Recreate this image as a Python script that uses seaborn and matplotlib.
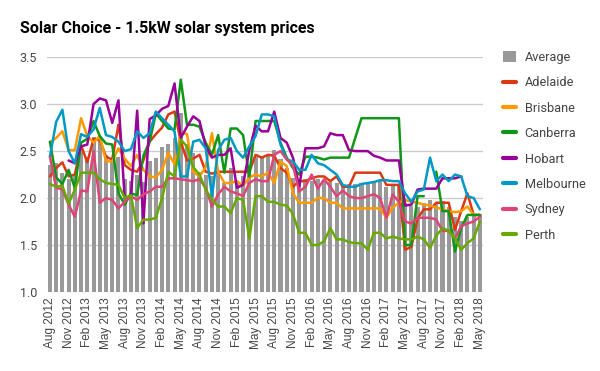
import matplotlib
matplotlib.use("Agg")
import matplotlib.pyplot as plt
from matplotlib.lines import Line2D
from matplotlib.patches import Patch
import seaborn as sns
import pandas as pd
import numpy as np

nan = np.nan

# monthly, Aug 2012 .. May 2018
months = pd.date_range("2012-08-01", "2018-05-01", freq="MS")
month_labels = [d.strftime("%b %Y") for d in months]

average = [2.35, 2.37, 2.27, 2.20, 2.23, 2.50, 2.44, 2.65, 2.62, 2.46,
           2.41, 2.44, 2.20, 2.18, 2.25, 2.17, 2.39, 2.43, 2.54, 2.57,
           2.64, 2.90, 2.58, 2.48, 2.28, 2.25, 2.23, 2.27, 2.16, 2.32,
           2.17, 2.23, 2.35, 2.44, 2.45, 2.46, 2.51, 2.42, 2.32, 2.21,
           2.16, 2.20, 2.18, 2.20, 2.18, 2.17, 2.16, 2.14, 2.15, 2.15,
           2.16, 2.17, 2.17, 2.18, 2.12, 2.15, 2.14, 1.95, 1.92, 1.90,
           1.95, 1.98, 1.95, 1.97, 1.90, 1.80, 1.76, 1.80, 1.83, 1.83]

adelaide = [2.23, 2.32, 2.38, 2.23, 2.25, 2.56, 2.38, 2.63, 2.62, 2.44,
            2.41, 2.78, 2.35, 2.30, 2.28, 2.40, 2.60, 2.68, 2.75, 2.89,
            2.92, 2.60, 2.40, 2.42, 2.46, 2.28, 2.26, 2.28, 2.28, 2.28,
            2.28, 2.28, 2.28, 2.46, 2.43, 2.46, 2.45, 2.32, 2.27, 2.12,
            2.18, 2.18, 2.21, 2.23, 2.23, 2.18, 2.23, 2.12, 2.12, 2.27,
            2.27, 2.27, 2.27, 2.27, 2.14, 2.14, 2.14, 1.45, 1.48, 1.78,
            1.88, 1.88, 1.95, 1.95, 1.95, 1.66, 1.86, 2.05, 1.82, 1.82]

brisbane = [2.59, 2.64, 2.71, 2.51, 2.51, 2.85, 2.66, 2.59, 2.66, 2.39,
            2.39, 2.53, 2.42, 2.34, 2.46, 2.30, 2.23, 2.22, 2.30, 2.48,
            2.36, 2.70, 2.68, 2.28, 2.23, 2.33, 2.69, 2.28, 2.16, 2.16,
            2.18, 2.13, 2.22, 2.25, 2.23, 2.27, 2.16, 2.39, 2.34, 2.05,
            1.95, 1.95, 1.95, 2.00, 2.00, 1.95, 1.95, 1.89, 1.89, 1.89,
            1.89, 1.89, 1.89, 1.89, 1.79, 1.90, 1.95, 1.98, 1.96, 1.95,
            1.93, 1.92, 1.90, 1.88, 1.86, 1.85, 1.86, 1.91, 1.82, 1.82]

canberra = [2.60, 2.22, 2.15, 2.30, 2.11, 2.59, 2.63, 2.82, 2.66, 2.58,
            2.57, 2.05, 1.93, 2.05, 2.03, 2.45, 2.60, 2.90, 2.82, 2.74,
            2.73, 3.26, 2.78, 2.78, 2.76, 2.59, 2.46, 2.67, 2.27, 2.74,
            2.74, 2.67, 2.23, 2.82, 2.82, 2.82, 2.82, 2.59, 2.43, 2.32,
            2.25, 2.44, 2.44, 2.43, 2.41, 2.43, 2.43, 2.43, 2.43, 2.64,
            2.85, 2.85, 2.85, 2.85, 2.85, 2.85, 2.85, 1.50, 1.50, 2.02,
            2.02, nan, 2.28, 1.86, 1.86, 1.43, 1.68, 1.82, 1.82, 1.82]

hobart = [nan, nan, nan, 2.40, 2.37, 2.55, 2.57, 3.00, 3.06, 3.04,
          2.80, 3.04, 2.00, 2.02, 2.93, 1.73, 2.84, 2.88, 2.95, 2.98,
          3.22, 2.64, 2.76, 2.87, 2.82, 2.55, 2.43, 2.46, 2.46, 2.53,
          2.11, 2.14, 2.51, 2.77, 2.71, 2.71, 2.92, 2.64, 2.59, 2.43,
          2.12, 2.53, 2.53, 2.53, 2.55, 2.69, 2.67, 2.67, 2.51, 2.50,
          2.50, 2.50, 2.45, 2.43, 2.40, 2.40, 2.40, 1.92, 1.93, 2.09,
          2.10, 2.10, 2.10, 2.21, 2.21, 2.21, 2.23, nan, nan, nan]

melbourne = [2.44, 2.81, 2.94, 2.50, 2.37, 2.68, 2.65, 2.73, 2.96, 2.67,
             2.65, 2.60, 2.50, 2.52, 2.71, 2.64, 2.69, 2.92, 2.85, 2.78,
             2.71, 2.23, 2.23, 2.60, 2.62, 2.53, 2.02, 2.51, 2.62, 2.64,
             2.50, 2.43, 2.55, 2.66, 2.89, 2.89, 2.87, 2.57, 2.41, 2.39,
             2.30, 2.30, 2.46, 2.37, 2.35, 2.30, 2.25, 2.14, 2.12, 2.12,
             2.15, 2.16, 2.17, 2.19, 2.19, 2.18, 2.18, 2.05, 1.96, 2.07,
             2.09, 2.43, 2.18, 2.25, 2.18, 2.25, 2.23, 2.02, 2.00, 1.88]

sydney = [2.44, 2.11, 2.09, 1.93, 1.80, 2.08, 2.07, 2.50, 1.95, 2.00,
          1.98, 1.89, 1.96, 2.02, 1.98, 2.04, 2.07, 2.12, 2.12, 2.21,
          2.21, 2.20, 2.19, 2.18, 2.20, 2.11, 1.91, 2.04, 2.12, 2.07,
          2.05, 2.02, 2.16, 2.20, 2.18, 2.18, 2.46, 2.50, 2.41, 2.35,
          2.07, 2.12, 2.25, 2.10, 2.20, 2.12, 2.02, 2.08, 2.02, 2.00,
          2.00, 2.02, 2.04, 2.00, 1.79, 2.04, 1.96, 1.75, 1.73, 1.79,
          1.79, 1.79, 1.77, 1.65, 1.65, 1.57, 1.70, 1.73, 1.75, 1.80]

perth = [2.15, 2.12, 2.13, 1.94, 2.09, 2.27, 2.27, 2.27, 2.20, 2.16,
         2.15, 2.14, 2.00, 2.03, 1.68, 1.77, 1.77, 1.79, 2.00, 2.28,
         2.23, 2.62, 2.55, 2.33, 2.25, 2.09, 1.98, 1.91, 1.91, 1.84,
         2.00, 1.98, 1.57, 2.02, 2.02, 1.96, 1.96, 1.93, 1.92, 1.83,
         1.63, 1.63, 1.50, 1.50, 1.54, 1.68, 1.56, 1.56, 1.53, 1.52,
         1.52, 1.45, 1.63, 1.63, 1.57, 1.59, 1.57, 1.56, 1.56, 1.59,
         1.56, 1.47, 1.60, 1.68, 1.65, 1.57, 1.45, 1.52, 1.57, 1.75]

cities = ["Adelaide", "Brisbane", "Canberra", "Hobart", "Melbourne", "Sydney", "Perth"]
city_values = [adelaide, brisbane, canberra, hobart, melbourne, sydney, perth]
colors = ["#dc3912", "#ff9900", "#109618", "#990099", "#0099c6", "#dd4477", "#66aa00"]
bar_color = "#999999"

# long form table, a new segment after every missing month so gaps stay open
rows = []
for name, vals in zip(cities, city_values):
    seg = 0
    for i, v in enumerate(vals):
        if np.isnan(v):
            seg += 1
            continue
        rows.append({"idx": i, "price": v, "city": name, "seg": f"{name}{seg}"})
df = pd.DataFrame(rows)

sns.set_theme(style="white")
plt.rcParams['font.family'] = ['Roboto', 'DejaVu Sans']

fig = plt.figure(figsize=(6, 3.71), dpi=100)
ax = fig.add_axes([0.078, 0.213, 0.727, 0.633])

sns.barplot(x=list(range(len(average))), y=average, color=bar_color,
            saturation=1, width=0.65, linewidth=0, ax=ax, zorder=2)
sns.lineplot(data=df, x="idx", y="price", hue="city", units="seg",
             estimator=None, hue_order=cities, palette=colors,
             linewidth=1.8, legend=False, ax=ax, zorder=3)

ax.set_xlim(-0.5, len(average) - 0.5)
ax.set_ylim(1.0, 3.5)
ax.set_yticks([1.0, 1.5, 2.0, 2.5, 3.0, 3.5])
ax.set_yticklabels([f"{v:.1f}" for v in [1.0, 1.5, 2.0, 2.5, 3.0, 3.5]])
ax.set_xticks(range(0, len(average), 3))
ax.set_xticklabels(month_labels[::3], rotation=90, family=["Liberation Sans", "DejaVu Sans"])
ax.tick_params(axis="both", length=0, colors="#444444")
ax.tick_params(axis="y", labelsize=9, pad=7)
ax.tick_params(axis="x", labelsize=8.5, pad=4)
ax.set_xlabel("")
ax.set_ylabel("")
ax.grid(axis="y", color="#cccccc", linewidth=1)
ax.set_axisbelow(True)
for s in ax.spines.values():
    s.set_visible(False)

fig.text(20 / 600, 1 - 28 / 371, "Solar Choice - 1.5kW solar system prices",
         fontsize=11.5, fontweight="bold", ha="left", va="center", color="#000000")

handles = [Patch(facecolor=bar_color, edgecolor="none", label="Average")]
handles += [Line2D([0], [0], color=c, lw=3, label=n) for n, c in zip(cities, colors)]
fig.legend(handles=handles, loc="upper left", bbox_to_anchor=(503 / 600, 1 - 51 / 371),
           frameon=False, fontsize=9.2, labelcolor="#444444", handlelength=1.0,
           handleheight=0.9, handletextpad=0.7, labelspacing=0.97,
           borderpad=0, borderaxespad=0)

fig.savefig("out.png", dpi=100)
